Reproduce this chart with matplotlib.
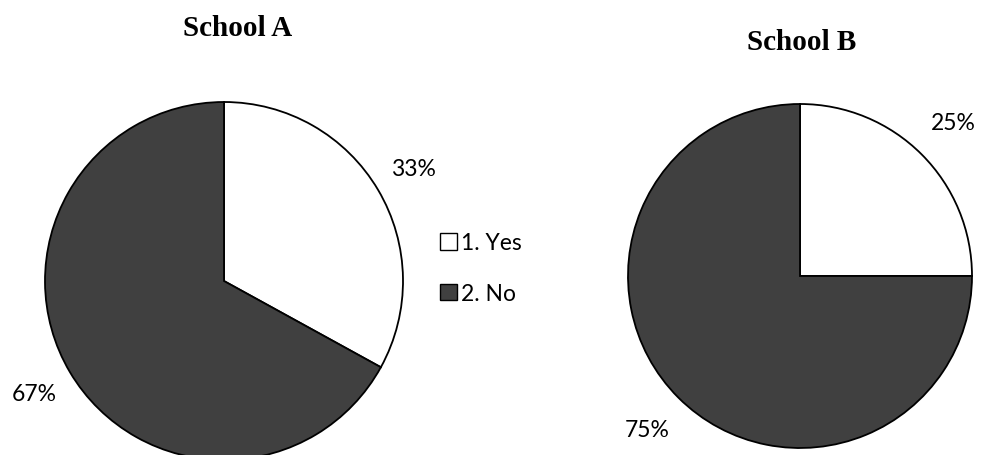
import matplotlib.pyplot as plt
from matplotlib.patches import Patch

labels = ["1. Yes", "2. No"]
school_a = [33, 67]
school_b = [25, 75]
colors = ["white", "#404040"]

fig = plt.figure(figsize=(9.82, 4.56), dpi=100)
ax = fig.add_axes([0, 0, 1, 1])

label_font = {"family": "Lato", "size": 16.5}

def draw_pie(values, center, radius, pct_dist):
    wedges, texts, autotexts = ax.pie(
        values, colors=colors, startangle=90, counterclock=False,
        center=center, radius=radius, autopct="%d%%", pctdistance=pct_dist,
        wedgeprops={"edgecolor": "black", "linewidth": 1.3},
        textprops=label_font, frame=True)
    return autotexts

draw_pie(school_a, (224, 174), 179, 1.23)
draw_pie(school_b, (800, 179), 172, 1.26)
ax.set_xlim(0, 982)
ax.set_ylim(0, 456)
ax.set_aspect("equal")
ax.axis("off")

fig.text(238 / 982, 427 / 456, "School A", ha="center", va="center",
         family="Liberation Serif", weight="bold", size=21)
fig.text(802 / 982, 413 / 456, "School B", ha="center", va="center",
         family="Liberation Serif", weight="bold", size=21)

handles = [Patch(facecolor=c, edgecolor="black", linewidth=1) for c in colors]
fig.legend(handles, labels, loc="center left", bbox_to_anchor=(419 / 982, 0.41),
           frameon=False, prop=label_font, handlelength=0.75, handleheight=0.75,
           handletextpad=0.2, labelspacing=1.3)

fig.savefig("out.png", dpi=100)
